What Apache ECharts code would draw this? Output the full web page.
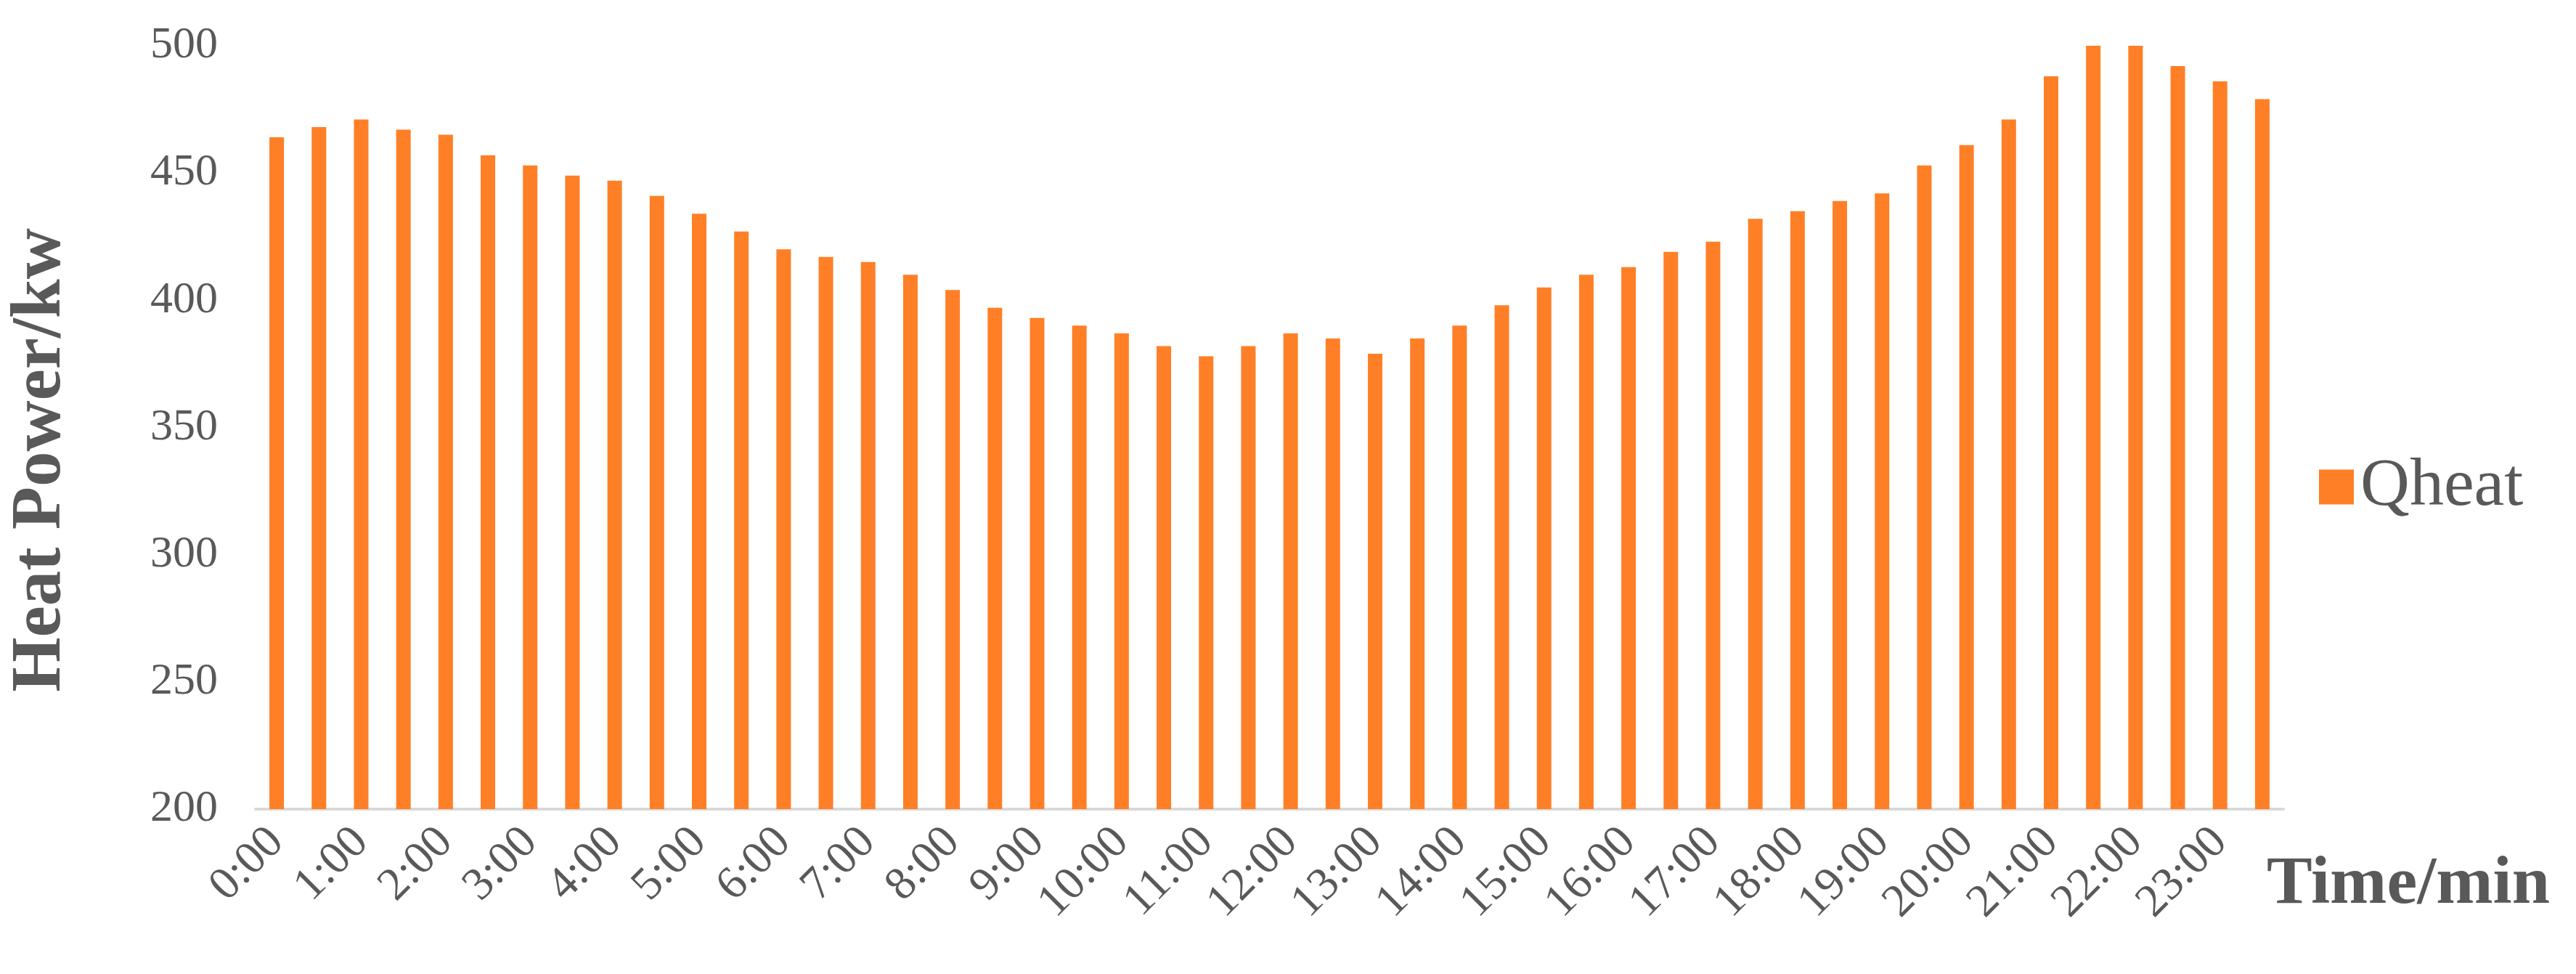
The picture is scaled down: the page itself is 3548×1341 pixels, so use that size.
<!DOCTYPE html>
<html>
<head>
<meta charset="utf-8">
<title>Qheat</title>
<script src="https://cdn.jsdelivr.net/npm/echarts@6/dist/echarts.min.js"></script>
<style>
  html, body { margin: 0; padding: 0; background: #fff; }
  #main { width: 3548px; height: 1341px; }
</style>
</head>
<body>
<div id="main"></div>
<script>
// half-hour steps, a label every full hour
const timeLabels = [
  '0:00', '0:30', '1:00', '1:30', '2:00', '2:30', '3:00', '3:30',
  '4:00', '4:30', '5:00', '5:30', '6:00', '6:30', '7:00', '7:30',
  '8:00', '8:30', '9:00', '9:30', '10:00', '10:30', '11:00', '11:30',
  '12:00', '12:30', '13:00', '13:30', '14:00', '14:30', '15:00', '15:30',
  '16:00', '16:30', '17:00', '17:30', '18:00', '18:30', '19:00', '19:30',
  '20:00', '20:30', '21:00', '21:30', '22:00', '22:30', '23:00', '23:30'
]
const qheat = [
  464, 468, 471, 467, 465, 457, 453, 449,
  447, 441, 434, 427, 420, 417, 415, 410,
  404, 397, 393, 390, 387, 382, 378, 382,
  387, 385, 379, 385, 390, 398, 405, 410,
  413, 419, 423, 432, 435, 439, 442, 453,
  461, 471, 488, 500, 500, 492, 486, 479
]
const yTicks = [200, 250, 300, 350, 400, 450, 500]

const font = "'Liberation Serif', 'Times New Roman', serif"
const textColor = '#595959'
const barColor = '#ff7f27'

let chart = echarts.init(document.getElementById('main'), null, { renderer: 'canvas' })
let option = {
  backgroundColor: '#ffffff',
  animation: false,
  textStyle: { fontFamily: font },
  grid: {
    left: 337,
    right: 403,
    top: 63,
    bottom: 227,
    containLabel: false
  },
  legend: {
    orient: 'vertical',
    left: 3189,
    top: 'middle',
    itemWidth: 48,
    itemHeight: 48,
    itemGap: 10,
    icon: 'rect',
    textStyle: { fontFamily: font, fontSize: 94, color: textColor, padding: [0, 0, 0, 4] },
    data: ['Qheat']
  },
  xAxis: {
    type: 'category',
    data: timeLabels,
    name: 'Time/min',
    nameLocation: 'end',
    nameGap: -23,
    nameTextStyle: {
      fontFamily: font,
      fontSize: 94,
      fontWeight: 'bold',
      color: textColor,
      verticalAlign: 'top',
      padding: [58, 0, 0, 0]
    },
    axisLine: { lineStyle: { color: '#d9d9d9', width: 4 } },
    axisTick: { show: false },
    axisLabel: {
      interval: 1,
      rotate: 45,
      margin: 36,
      fontFamily: font,
      fontSize: 64,
      color: textColor
    },
    splitLine: { show: false }
  },
  yAxis: {
    type: 'value',
    min: yTicks[0],
    max: yTicks[yTicks.length - 1],
    interval: yTicks[1] - yTicks[0],
    name: 'Heat Power/kw',
    nameLocation: 'middle',
    nameRotate: 90,
    nameGap: 247,
    nameTextStyle: {
      fontFamily: font,
      fontSize: 97,
      fontWeight: 'bold',
      color: textColor,
      padding: [0, 90, 0, 0]
    },
    axisLine: { show: false },
    axisTick: { show: false },
    splitLine: { show: false },
    axisLabel: {
      margin: 52,
      fontFamily: font,
      fontSize: 62,
      color: textColor
    }
  },
  series: [
    {
      name: 'Qheat',
      type: 'bar',
      data: qheat,
      barWidth: 20,
      itemStyle: { color: barColor }
    }
  ]
}
chart.setOption(option)
window.addEventListener('resize', () => chart.resize())
</script>
</body>
</html>
